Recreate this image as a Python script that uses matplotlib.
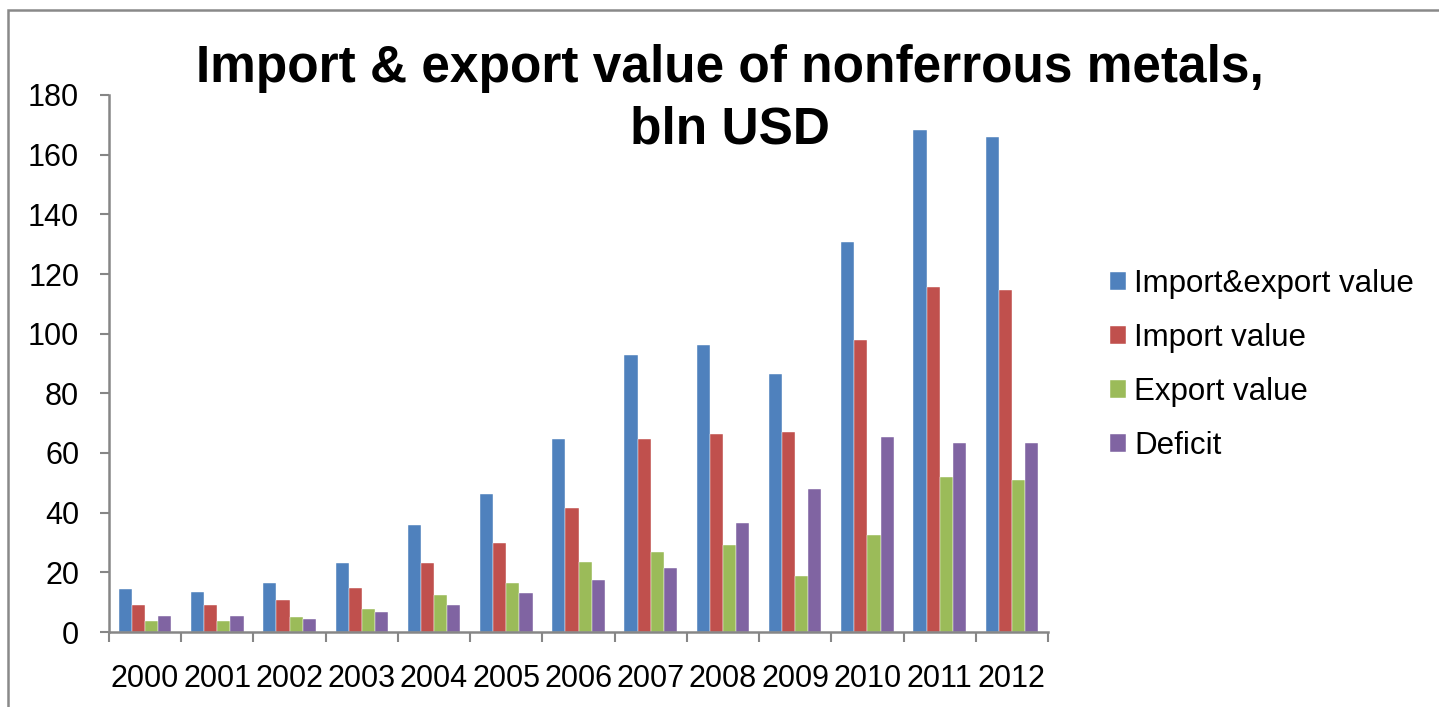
import numpy as np
import matplotlib
matplotlib.use('Agg')
from matplotlib import pyplot as plt
from matplotlib import patches

plt.rcParams['font.family'] = ['Liberation Sans', 'DejaVu Sans']

years = ['2000', '2001', '2002', '2003', '2004', '2005', '2006',
         '2007', '2008', '2009', '2010', '2011', '2012']
trade_total = [14.3, 13.5, 16.5, 23.0, 36.0, 46.3, 64.8, 93.0, 96.2, 86.6, 130.6, 168.3, 166.0]
import_value = [9.2, 9.2, 10.8, 14.8, 23.0, 30.0, 41.5, 64.8, 66.4, 67.2, 97.8, 115.5, 114.7]
export_value = [3.7, 3.7, 5.1, 7.6, 12.4, 16.4, 23.6, 26.9, 29.3, 18.9, 32.6, 51.9, 51.1]
deficit = [5.2, 5.4, 4.3, 6.8, 9.2, 13.1, 17.3, 21.3, 36.5, 47.8, 65.5, 63.2, 63.2]

series = [trade_total, import_value, export_value, deficit]
names = ['Import&export value', 'Import value', 'Export value', 'Deficit']
colors = ['#4F81BD', '#C0504D', '#9BBB59', '#8064A2']
axis_grey = '#868686'

fig = plt.figure(figsize=(14.39, 7.07), dpi=100)
ax = fig.add_axes([109 / 1439, 1 - 632 / 707, 939 / 1439, 537 / 707])

# 4 bars per year, excel-style 150% gap
x = np.arange(len(years))
w = 1 / 5.5
handles = []
for k, (vals, name, c) in enumerate(zip(series, names, colors)):
    b = ax.bar(x - 1.5 * w + k * w, vals, width=w, color=c, label=name,
               edgecolor='white', linewidth=0.3)
    handles.append(b)

ax.set_xlim(-0.5, len(years) - 0.5)
ax.set_ylim(0, 180)
ax.set_yticks(np.arange(0, 181, 20))

for s in ['top', 'right']:
    ax.spines[s].set_visible(False)
for s in ['left', 'bottom']:
    ax.spines[s].set_color(axis_grey)
    ax.spines[s].set_linewidth(1.8)

ax.tick_params(axis='y', direction='out', length=6.5, width=1.5, color=axis_grey,
               labelsize=22, pad=15)
# year labels in the middle, tick marks between categories
ax.set_xticks(x)
ax.set_xticklabels(years)
ax.tick_params(axis='x', which='major', length=0, labelsize=22, pad=23)
ax.set_xticks(np.arange(-0.5, len(years)), minor=True)
ax.tick_params(axis='x', which='minor', direction='out', length=7.5, width=1.5,
               color=axis_grey)

title_kw = dict(ha='center', va='baseline', fontsize=37, fontweight='bold')
fig.text(0.5073, 1 - 82 / 707, 'Import & export value of nonferrous metals,', **title_kw)
fig.text(0.5073, 1 - 143 / 707, 'bln USD', **title_kw)

fig.legend(handles=handles, labels=names, loc='center left',
           bbox_to_anchor=(1110 / 1439, 1 - 365 / 707), frameon=False,
           fontsize=22.5, handlelength=0.51, handleheight=0.51,
           handletextpad=0.27, labelspacing=0.76, borderpad=0, borderaxespad=0)

# outer chart border (runs off the right and bottom of the image)
fig.patches.append(patches.Rectangle((8 / 1439, -0.1), 1.2, 1.1 - 10 / 707,
                                     transform=fig.transFigure, fill=False,
                                     edgecolor='#898989', linewidth=1.8))

fig.savefig('out.png', dpi=100)
